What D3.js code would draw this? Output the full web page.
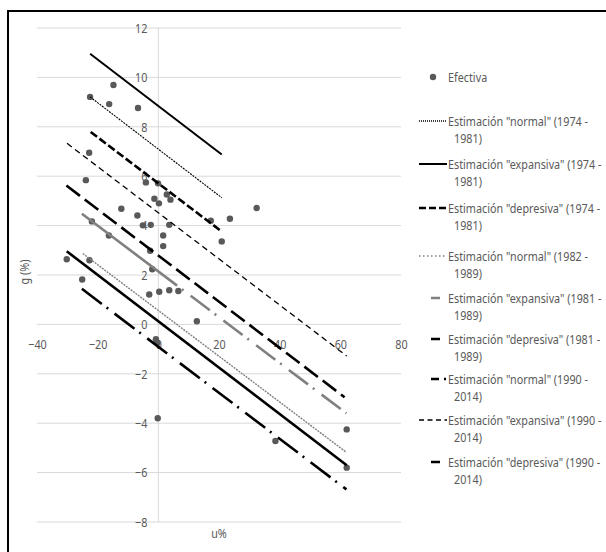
<!DOCTYPE html>
<html>
<head>
<meta charset="utf-8">
<script src="https://cdn.jsdelivr.net/npm/d3@7"></script>
<style>
    html, body { margin: 0; padding: 0; background: #fff; }
    text { font-family: "Noto Sans", "Open Sans", sans-serif; fill: #595959; font-size: 13.5px; }
</style>
</head>
<body>
<svg id="svg" width="606" height="552"></svg>
<script>
    var uTicks = [-40, -20, 0, 20, 40, 60, 80];
    var gTicks = [-8, -6, -4, -2, 0, 2, 4, 6, 8, 10, 12];

    // "Efectiva" points, u% vs g (%)
    var effU = [-22.5, -14.8, -16.2, -6.7, -22.8, -23.9, -4.1, -0.1, 2.8, -1.3,
                0.2, 4.0, -12.2, 32.4, -6.9, 23.6, 17.3, -21.9, -5.1, -2.5,
                3.6, -16.3, 1.6, 20.9, 1.6, -2.7, -30.2, -22.7, -25.1, -2.0,
                -3.0, 0.3, 3.6, 6.6, 12.7, -0.8, -0.3, -0.2, 38.6, 62.1, 62.1];
    var effG = [9.21, 9.69, 8.92, 8.76, 6.95, 5.84, 5.75, 5.71, 5.26, 5.09,
                4.90, 5.05, 4.68, 4.71, 4.41, 4.28, 4.20, 4.17, 4.01, 4.03,
                4.03, 3.60, 3.60, 3.36, 3.17, 2.98, 2.64, 2.60, 1.82, 2.23,
                1.21, 1.32, 1.38, 1.35, 0.13, -0.60, -0.75, -3.80, -4.72, -4.25, -5.80];

    var lineNames = [
        ['Estimación "normal" (1974 -', '1981)'],
        ['Estimación "expansiva" (1974 -', '1981)'],
        ['Estimación "depresiva" (1974 -', '1981)'],
        ['Estimación "normal" (1982 -', '1989)'],
        ['Estimación "expansiva" (1981 -', '1989)'],
        ['Estimación "depresiva" (1981 -', '1989)'],
        ['Estimación "normal" (1990 -', '2014)'],
        ['Estimación "expansiva" (1990 -', '2014)'],
        ['Estimación "depresiva" (1990 -', '2014)']
    ];
    var lineStart = [[-22.5, 9.21], [-22.5, 10.96], [-22.3, 7.79], [-24.9, 2.87], [-25.2, 4.48],
                     [-30.3, 5.62], [-25.2, 1.44], [-30.1, 7.33], [-30.2, 2.96]];
    var lineEnd = [[20.9, 5.13], [20.9, 6.88], [20.9, 3.76], [62.0, -5.18], [62.0, -3.6],
                   [61.4, -2.95], [62.0, -6.68], [62.1, -1.28], [62.1, -5.7]];

    var styles = [
        { color: "#000", width: 1.1, dash: "2,1", legendDash: "1,1" },
        { color: "#000", width: 2, dash: null, legendDash: null },
        { color: "#000", width: 2.6, dash: "8,3", legendDash: "7,3" },
        { color: "#808080", width: 1.4, dash: "2,1", legendDash: "1.5,2.5" },
        { color: "#808080", width: 2.6, dash: "lead", legendDash: "0,12,9,100" },
        { color: "#000", width: 2.6, dash: "17,6", legendDash: "0,12,9,100" },
        { color: "#000", width: 2.6, dash: "25,6,2,8", legendDash: "0,12,8,5,2,100" },
        { color: "#000", width: 1.3, dash: "6,4", legendDash: "5,3.5" },
        { color: "#000", width: 2.6, dash: null, legendDash: "0,12,9,100" }
    ];

    var SX = 0.8; // narrow the text, the original used a condensed face

    var svg = d3.select("#svg");

    var x = d3.scaleLinear().domain([-40, 80]).range([37, 401]);
    var y = d3.scaleLinear().domain([-8, 12]).range([522, 28]);

    function squeeze(sel) {
        sel.each(function () {
            var t = d3.select(this);
            var tx = +t.attr("x") || 0;
            t.attr("x", tx / SX).attr("transform", "scale(" + SX + ",1)");
        });
    }

    // gridlines
    svg.append("g").selectAll("line")
        .data(gTicks)
        .enter()
        .append("line")
        .attr("x1", x(-40)).attr("x2", x(80))
        .attr("y1", function (d) { return y(d); })
        .attr("y2", function (d) { return y(d); })
        .attr("stroke", "#d9d9d9")
        .attr("stroke-width", 1);

    svg.append("line")
        .attr("x1", x(0)).attr("x2", x(0))
        .attr("y1", y(12)).attr("y2", y(-8))
        .attr("stroke", "#d9d9d9")
        .attr("stroke-width", 1);

    // axis labels
    var yAxis = svg.append("g")
        .attr("transform", "translate(" + x(0) + ",0)")
        .call(d3.axisLeft(y).tickValues(gTicks).tickSize(0).tickPadding(11));
    var xAxis = svg.append("g")
        .attr("transform", "translate(0," + y(0) + ")")
        .call(d3.axisBottom(x).tickValues(uTicks).tickSize(0).tickPadding(15));
    [yAxis, xAxis].forEach(function (a) {
        a.select(".domain").remove();
        a.attr("font-family", null).attr("font-size", null);
        a.selectAll("text").attr("fill", "#595959").call(squeeze);
    });

    svg.append("text")
        .attr("transform", "translate(29,272) rotate(-90) scale(" + SX + ",1)")
        .attr("text-anchor", "middle")
        .text("g (%)");
    svg.append("text")
        .attr("x", 219).attr("y", 538)
        .attr("text-anchor", "middle")
        .text("u%")
        .call(squeeze);

    // Efectiva
    svg.append("g").selectAll("circle")
        .data(effU.map(function (u, i) { return [u, effG[i]]; }))
        .enter()
        .append("circle")
        .attr("cx", function (d) { return x(d[0]); })
        .attr("cy", function (d) { return y(d[1]); })
        .attr("r", 3.2)
        .attr("fill", "#595959");

    // estimation lines
    function dashFor(i, len) {
        var s = styles[i];
        if (s.dash !== "lead") return s.dash;
        // solid first stretch, then long dash-dot
        var lead = 0.36 * len;
        var parts = [lead, 6, 2, 9];
        var total = lead + 17;
        while (total < len + 50) {
            parts.push(24, 6, 2, 9);
            total += 41;
        }
        return parts.join(",");
    }

    svg.append("g").selectAll("line")
        .data(lineStart)
        .enter()
        .append("line")
        .attr("x1", function (d) { return x(d[0]); })
        .attr("y1", function (d) { return y(d[1]); })
        .attr("x2", function (d, i) { return x(lineEnd[i][0]); })
        .attr("y2", function (d, i) { return y(lineEnd[i][1]); })
        .attr("stroke", function (d, i) { return styles[i].color; })
        .attr("stroke-width", function (d, i) { return styles[i].width; })
        .attr("stroke-dasharray", function (d, i) {
            var dx = x(lineEnd[i][0]) - x(d[0]);
            var dy = y(lineEnd[i][1]) - y(d[1]);
            return dashFor(i, Math.sqrt(dx * dx + dy * dy));
        });

    // legend
    var legend = svg.append("g");
    legend.append("circle")
        .attr("cx", 433).attr("cy", 77).attr("r", 3.2)
        .attr("fill", "#595959");
    legend.append("text")
        .attr("x", 448).attr("y", 77).attr("dy", "0.35em")
        .text("Efectiva")
        .call(squeeze);

    var rowY = [121, 164, 208, 256, 298, 339, 379, 420, 462];
    var items = legend.selectAll("g.item")
        .data(lineNames)
        .enter()
        .append("g")
        .attr("class", "item")
        .attr("transform", function (d, i) { return "translate(0," + rowY[i] + ")"; });
    items.append("line")
        .attr("x1", 419).attr("x2", 447)
        .attr("stroke", function (d, i) { return styles[i].color; })
        .attr("stroke-width", function (d, i) { return Math.max(styles[i].width, 1.3); })
        .attr("stroke-dasharray", function (d, i) { return styles[i].legendDash; });
    items.append("text")
        .attr("x", 448).attr("y", 0).attr("dy", "0.35em")
        .text(function (d) { return d[0]; })
        .call(squeeze);
    items.append("text")
        .attr("x", 454).attr("y", 17.5).attr("dy", "0.35em")
        .text(function (d) { return d[1]; })
        .call(squeeze);

    // chart border (left and top)
    svg.append("path")
        .attr("d", "M8,552V11H606")
        .attr("fill", "none")
        .attr("stroke", "#000")
        .attr("stroke-width", 2);
</script>
</body>
</html>
